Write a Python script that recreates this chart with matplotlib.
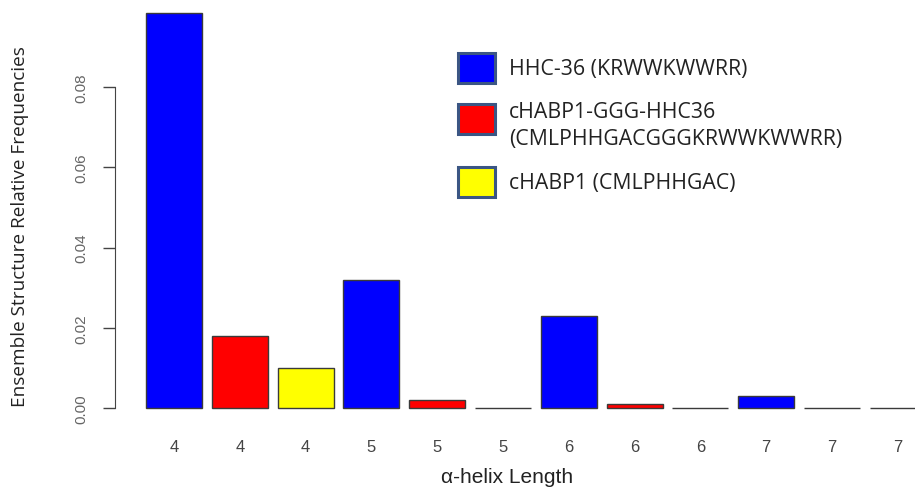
import numpy as np
import matplotlib
matplotlib.use("Agg")
import matplotlib.pyplot as plt
from matplotlib.patches import Rectangle

# bar data
helix_len = ['4', '4', '4', '5', '5', '5', '6', '6', '6', '7', '7', '7']
freq = [0.0984, 0.018, 0.010, 0.032, 0.002, 0.0, 0.023, 0.001, 0.0, 0.003, 0.0, 0.0]
peptides = ['HHC-36 (KRWWKWWRR)',
            'cHABP1-GGG-HHC36\n(CMLPHHGACGGGKRWWKWWRR)',
            'cHABP1 (CMLPHHGAC)']
pep_colors = ['#0000ff', '#ff0000', '#ffff00']
yticks = [0.00, 0.02, 0.04, 0.06, 0.08]

W, H = 915, 489
fig = plt.figure(figsize=(W / 100, H / 100), dpi=100)

def fx(px):
    return px / W

def fy(py):
    return 1 - py / H

ax = fig.add_axes([fx(115), fy(409), fx(915 - 115), 409 / H])

x = np.arange(len(freq))
cols = [pep_colors[i % 3] for i in range(len(freq))]
ax.bar(x, freq, width=0.85, color=cols, edgecolor='#3a3a3a', linewidth=1, clip_on=False)

ax.set_xlim(-(174 - 115) / 65.8, (915 - 174) / 65.8)
ax.set_ylim(0, 409 / 4012.5)

for s in ['top', 'right', 'bottom']:
    ax.spines[s].set_visible(False)
ax.spines['left'].set_bounds(0, 0.08)
ax.spines['left'].set_color('#444444')

ax.set_yticks(yticks)
ax.set_yticklabels(['%.2f' % v for v in yticks], rotation=90, va='center',
                   family='Liberation Sans', fontsize=11, color='#666666')
ax.tick_params(axis='y', length=9, width=1, color='#444444', pad=10)

ax.set_xticks(x)
ax.set_xticklabels(helix_len, family='Liberation Sans', fontsize=12, color='#444444')
ax.tick_params(axis='x', length=0, pad=22)

fig.text(fx(20), fy(227), 'Ensemble Structure Relative Frequencies', rotation=90,
         ha='center', va='center', family='Open Sans', fontsize=13.7, color='#222222')
fig.text(fx(507), fy(478), 'α-helix Length', ha='center', va='center',
         family='Liberation Sans', fontsize=15, color='#222222')

# legend boxes drawn by hand
box_y = [69, 120, 183]
text_y = [70, 126, 183]
for yc, ty, c, lab in zip(box_y, text_y, pep_colors, peptides):
    fig.patches.append(Rectangle((fx(458), fy(yc + 15)), fx(37), 30 / H,
                                 transform=fig.transFigure, facecolor=c,
                                 edgecolor='#3b5684', linewidth=2.2))
    fig.text(fx(509), fy(ty), lab, ha='left', va='center', family='Open Sans',
             fontsize=15.3, color='#222222', linespacing=1.4)

fig.savefig('out.png', dpi=100)
